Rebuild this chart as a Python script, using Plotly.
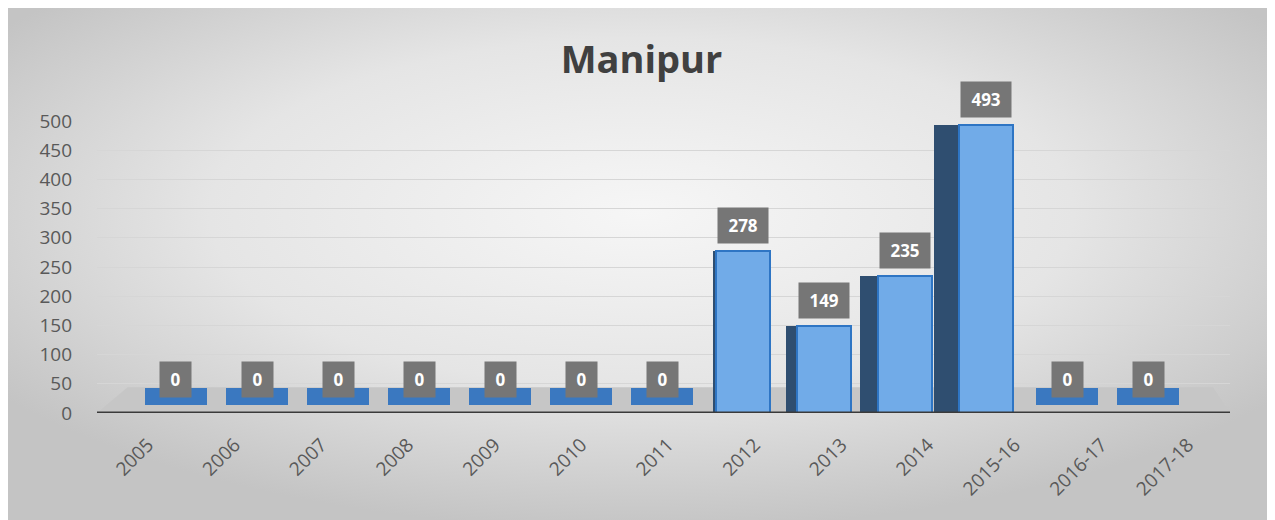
import base64
import plotly.graph_objects as go

# ---- data ----
categories = ["2005", "2006", "2007", "2008", "2009", "2010", "2011",
              "2012", "2013", "2014", "2015-16", "2016-17", "2017-18"]
values = [0, 0, 0, 0, 0, 0, 0, 278, 149, 235, 493, 0, 0]
title_text = "Manipur"
y_ticks = [0, 50, 100, 150, 200, 250, 300, 350, 400, 450, 500]

# ---- layout constants (page has an 8px body margin) ----
W, H = 1267, 512
ML, MR, MT, MB = 89, 45, 113, 107
PW, PH = W - ML - MR, H - MT - MB
FONT = "Open Sans"
n = len(categories)
idx = list(range(n))

# background: elliptical grey gradient
svg = f"""<svg xmlns='http://www.w3.org/2000/svg' width='{W}' height='{H}' viewBox='0 0 {W} {H}' preserveAspectRatio='none'>
<defs><radialGradient id='g' cx='50%' cy='40%' r='62%'>
<stop offset='0%' stop-color='#f6f6f6'/><stop offset='55%' stop-color='#e5e5e5'/>
<stop offset='100%' stop-color='#c4c4c4'/></radialGradient></defs>
<rect width='{W}' height='{H}' fill='url(#g)'/>
</svg>"""
bg_src = "data:image/svg+xml;base64," + base64.b64encode(svg.encode()).decode()

fig = go.Figure()

# floor footprints (flat bases of the zero-height columns)
foot_w = [0.76 if v == 0 else 0.62 for v in values]
fig.add_trace(go.Bar(
    x=idx, y=[30] * n, base=[13] * n, width=foot_w,
    marker=dict(color="#3a78c0", line=dict(width=0)),
    hoverinfo="skip", showlegend=False))

# dark side faces of the columns (perspective)
side_px = [max(0.0, (i - 6.6) * 7.5) for i in range(n)]
side_w = [p / 81.0 for p in side_px]
fig.add_trace(go.Bar(
    x=idx, y=values, width=side_w,
    offset=[-0.335 - w for w in side_w],
    marker=dict(color="#2f4e70", line=dict(width=0)),
    hoverinfo="skip", showlegend=False))

# front faces
fig.add_trace(go.Bar(
    x=idx, y=values, width=0.66,
    marker=dict(color="#71abe8", line=dict(color="#2e75c4", width=2)),
    hoverinfo="skip", showlegend=False))

# data labels
for i, v in zip(idx, values):
    fig.add_annotation(
        x=i, y=v, xref="x", yref="y", text=f"<b> {v} </b>",
        showarrow=False, yanchor="bottom", yshift=15 if v == 0 else 7,
        font=dict(family=FONT, size=17, color="#ffffff"),
        bgcolor="#767676", borderpad=6)

# floor plate (depth of the 3D floor)
fig.add_shape(type="path", xref="paper", yref="y",
              path="M 0,0 L 0.027,44 L 0.985,44 L 1,0 Z",
              fillcolor="#c6c6c6", line=dict(width=0), layer="below")

fig.update_layout(
    width=W, height=H,
    margin=dict(l=ML, r=MR, t=MT, b=MB),
    paper_bgcolor="#ffffff", plot_bgcolor="rgba(0,0,0,0)",
    barmode="overlay", bargap=0,
    title=dict(text=f"<b>{title_text}</b>", x=0.5, xanchor="center",
               y=1 - 52 / H, yanchor="middle",
               font=dict(family=FONT, size=38, color="#404040")),
    font=dict(family=FONT, color="#595959"),
    images=[dict(source=bg_src, xref="paper", yref="paper",
                 x=-ML / PW, y=1 + MT / PH, sizex=W / PW, sizey=H / PH,
                 xanchor="left", yanchor="top", sizing="stretch",
                 layer="below")],
    xaxis=dict(range=[-0.975, 13.01], showticklabels=False, showgrid=False,
               zeroline=False, showline=False, ticks=""),
    xaxis2=dict(type="category", categoryorder="array", categoryarray=categories,
                overlaying="x", side="bottom", anchor="y",
                range=[-0.588, 12.484], tickangle=-45,
                tickvals=categories, ticktext=categories,
                showgrid=False, zeroline=False, showline=False, ticks="",
                ticklabelstandoff=16,
                tickfont=dict(family=FONT, size=19, color="#595959")),
    yaxis=dict(range=[0, 500], tickvals=y_ticks, showgrid=True,
               gridcolor="#d6d6d6", gridwidth=1, zeroline=False,
               showline=False, ticks="", ticklabelstandoff=24,
               tickfont=dict(family=FONT, size=19, color="#595959")),
)

# invisible trace to activate the label axis
fig.add_trace(go.Scatter(x=categories, y=values, xaxis="x2", yaxis="y",
                         mode="markers", marker=dict(opacity=0),
                         hoverinfo="skip", showlegend=False))

# axis line at zero
fig.add_shape(type="line", xref="paper", yref="y", x0=0, x1=1, y0=0, y1=0,
              line=dict(color="#3a3a3a", width=3), layer="above")

fig.write_html("out.html")
